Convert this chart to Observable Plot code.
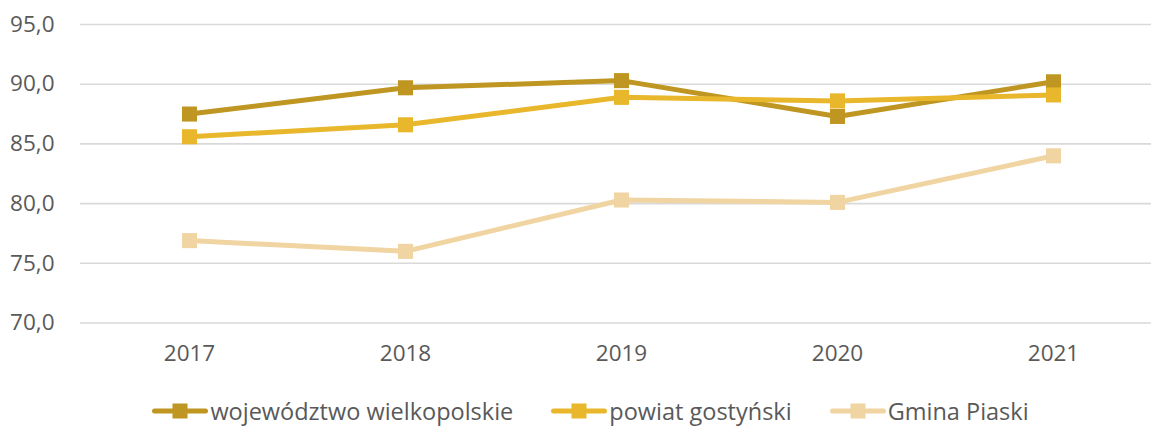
<!DOCTYPE html>
<html>
<head>
<meta charset="utf-8">
<script src="https://cdn.jsdelivr.net/npm/d3@7"></script>
<script src="https://cdn.jsdelivr.net/npm/@observablehq/plot@0.6"></script>
<style>
  html, body { margin: 0; padding: 0; background: #fff; }
  body { width: 1151px; height: 426px; overflow: hidden; font-family: "Open Sans", sans-serif; }
  #legend { display: flex; justify-content: center; align-items: center; height: 40px; color: #595959; font-size: 23.5px; margin-left: 30px; }
  .item { display: flex; align-items: center; margin: 0 19px; }
  .item svg { margin-right: 2px; }
</style>
</head>
<body>
<div id="chart"></div>
<div id="legend"></div>
<script>
const years = [2017, 2018, 2019, 2020, 2021];
const seriesNames = ["województwo wielkopolskie", "powiat gostyński", "Gmina Piaski"];
const wojewodztwo = [87.5, 89.7, 90.3, 87.3, 90.2];
const powiat = [85.6, 86.6, 88.9, 88.6, 89.1];
const gmina = [76.9, 76.0, 80.3, 80.1, 84.0];
const yTicks = [70, 75, 80, 85, 90, 95];
const colors = ["#BE9621", "#E8B72B", "#F0D4A2"];

const valuesBySeries = [wojewodztwo, powiat, gmina];
const data = [];
seriesNames.forEach((s, i) => years.forEach((y, j) => data.push({series: s, year: String(y), value: valuesBySeries[i][j]})));

const fmt = d => d.toFixed(1).replace(".", ",");

const chart = Plot.plot({
  width: 1151,
  height: 391,
  marginLeft: 80,
  marginRight: 0,
  marginTop: 24,
  marginBottom: 68.5,
  style: {fontFamily: "Open Sans, sans-serif", fontSize: "22.5px", color: "#595959", background: "#fff"},
  x: {type: "point", domain: years.map(String), range: [188, 1054], padding: 0, label: null},
  y: {domain: [70, 95], label: null},
  marks: [
    Plot.ruleY(yTicks, {stroke: "#d9d9d9", strokeWidth: 1.6}),
    Plot.axisY({ticks: yTicks, tickSize: 0, tickPadding: 26, tickFormat: fmt, label: null, fill: "#595959"}),
    Plot.axisX({tickSize: 0, tickPadding: 22, label: null, fill: "#595959"}),
    ...seriesNames.map((s, i) => [
      Plot.line(data.filter(d => d.series === s), {x: "year", y: "value", stroke: colors[i], strokeWidth: 5, strokeLinejoin: "round", strokeLinecap: "round"}),
      Plot.dot(data.filter(d => d.series === s), {x: "year", y: "value", symbol: "square", r: 8.5, fill: colors[i], stroke: "none"})
    ]).flat()
  ]
});
document.getElementById("chart").appendChild(chart);

const legend = document.getElementById("legend");
seriesNames.forEach((s, i) => {
  const item = document.createElement("div");
  item.className = "item";
  item.innerHTML = `<svg width="56" height="20"><line x1="2.5" y1="10" x2="53.5" y2="10" stroke="${colors[i]}" stroke-width="5" stroke-linecap="round"/><rect x="20.5" y="2.5" width="15" height="15" fill="${colors[i]}"/></svg><span>${s}</span>`;
  legend.appendChild(item);
});
</script>
</body>
</html>
